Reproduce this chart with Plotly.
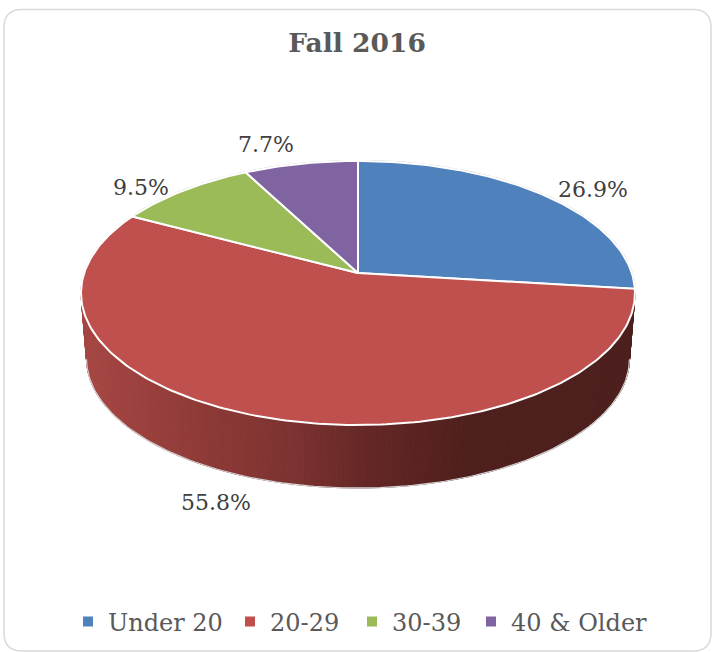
import math
import plotly.graph_objects as go

categories = ["Under 20", "20-29", "30-39", "40 & Older"]
shares = [26.9, 55.8, 9.5, 7.7]
colors = ["#4F81BD", "#C0504D", "#9BBB59", "#8064A2"]
title_text = "Fall 2016"

FONT = "DejaVu Serif"
CX, CY = 358.0, 273.0
RX, RY, K = 273.8, 129.0, 0.1515
WALL_SCALE, WALL_CY = 0.98, 339.0
label_shift = [(49, -6), (-46, 86), (-43, -3), (-35, -19)]
legend_left = [68, 230, 352, 471]


def rim(deg, scale=1.0, cy=CY):
    a = math.radians(deg)
    u, v = math.sin(a), math.cos(a)
    w = 1 + K * v
    return CX + scale * RX * u / w, cy - scale * RY * v / w


def arc(a0, a1, step=1.0, scale=1.0, cy=CY):
    n = max(2, int(abs(a1 - a0) / step))
    return [rim(a0 + (a1 - a0) * i / n, scale, cy) for i in range(n + 1)]


def wall_color(x):
    stops = [(85, (166, 70, 67)), (200, (142, 58, 55)), (300, (122, 50, 48)),
             (360, (102, 40, 38)), (470, (78, 31, 29)), (640, (76, 31, 29))]
    for (x0, c0), (x1, c1) in zip(stops, stops[1:]):
        if x <= x1:
            t = max(0.0, (x - x0) / (x1 - x0))
            return "rgb(%d,%d,%d)" % tuple(round(p + (q - p) * t) for p, q in zip(c0, c1))
    return "rgb(76,31,29)"


total = sum(shares)
edges = [0.0]
for s in shares:
    edges.append(edges[-1] + 360.0 * s / total)

fig = go.Figure()

# side wall of the biggest slice, as narrow vertical strips
red_start, red_end = edges[1], edges[2]
strip = 1.0
a = red_start
while a < red_end:
    b = min(a + strip, red_end)
    top = arc(a, b, 0.5)
    bot = arc(b, a, 0.5, WALL_SCALE, WALL_CY)
    pts = top + bot + [top[0]]
    col = wall_color((top[0][0] + top[-1][0]) / 2)
    fig.add_trace(go.Scatter(x=[p[0] for p in pts], y=[p[1] for p in pts], mode="lines",
                             fill="toself", fillcolor=col, line=dict(color=col, width=1),
                             showlegend=False, hoverinfo="skip"))
    a = b

# faint outlines: front of the base, back of the top face
base = arc(99, 261, 1.0, WALL_SCALE, WALL_CY)
back = arc(-65, 97, 1.0)
fig.add_trace(go.Scatter(x=[p[0] for p in base], y=[p[1] for p in base], mode="lines",
                         line=dict(color="#d4d4d4", width=1.2), showlegend=False, hoverinfo="skip"))
fig.add_trace(go.Scatter(x=[p[0] for p in back], y=[p[1] for p in back], mode="lines",
                         line=dict(color="#d4d4d4", width=2.4), showlegend=False, hoverinfo="skip"))

# top faces
for i, name in enumerate(categories):
    pts = [rim(0, 0.0)] + arc(edges[i], edges[i + 1], 1.0) + [rim(0, 0.0)]
    fig.add_trace(go.Scatter(x=[p[0] for p in pts], y=[p[1] for p in pts], mode="lines",
                             fill="toself", fillcolor=colors[i],
                             line=dict(color="#FFFFFF", width=2),
                             name=name, showlegend=False, hoverinfo="skip"))

# legend entries, one small legend per category so that the gaps can follow the reference
legends = {}
for i, name in enumerate(categories):
    key = "legend" if i == 0 else f"legend{i + 1}"
    fig.add_trace(go.Scatter(x=[None], y=[None], mode="markers", name=name, legend=key,
                             showlegend=True,
                             marker=dict(symbol="square", size=10, color=colors[i])))
    legends[key] = dict(x=legend_left[i] / 714, xanchor="left", y=0.046, yanchor="middle",
                        font=dict(family=FONT, size=24, color="#595959"),
                        itemwidth=30, bgcolor="rgba(0,0,0,0)")

annotations = []
for i, s in enumerate(shares):
    px, py = rim((edges[i] + edges[i + 1]) / 2)
    annotations.append(dict(x=px, y=py, xref="x", yref="y", text=f"{s:.1f}%", showarrow=False,
                            xshift=label_shift[i][0], yshift=-label_shift[i][1],
                            font=dict(family=FONT, size=22, color="#404040")))

card = ("M 22 9.5 L 693 9.5 Q 711 9.5 711 27.5 L 711 633 Q 711 651 693 651 "
        "L 22 651 Q 4 651 4 633 L 4 27.5 Q 4 9.5 22 9.5 Z")

fig.update_layout(
    width=714, height=652, autosize=False,
    margin=dict(l=0, r=0, t=0, b=0),
    paper_bgcolor="#FFFFFF", plot_bgcolor="#FFFFFF",
    xaxis=dict(range=[0, 714], visible=False, fixedrange=True),
    yaxis=dict(range=[652, 0], visible=False, fixedrange=True),
    title=dict(text=f"<b>{title_text}</b>", x=0.5, xanchor="center", y=0.934, yanchor="middle",
               font=dict(family=FONT, size=26.5, color="#595959")),
    shapes=[dict(type="path", path=card, xref="x", yref="y", layer="below",
                 line=dict(color="#D9D9D9", width=1.5), fillcolor="#FFFFFF")],
    annotations=annotations,
    **legends,
)

fig.write_html("out.html", config={"displayModeBar": False},
               post_script="document.body.style.margin='0';")
